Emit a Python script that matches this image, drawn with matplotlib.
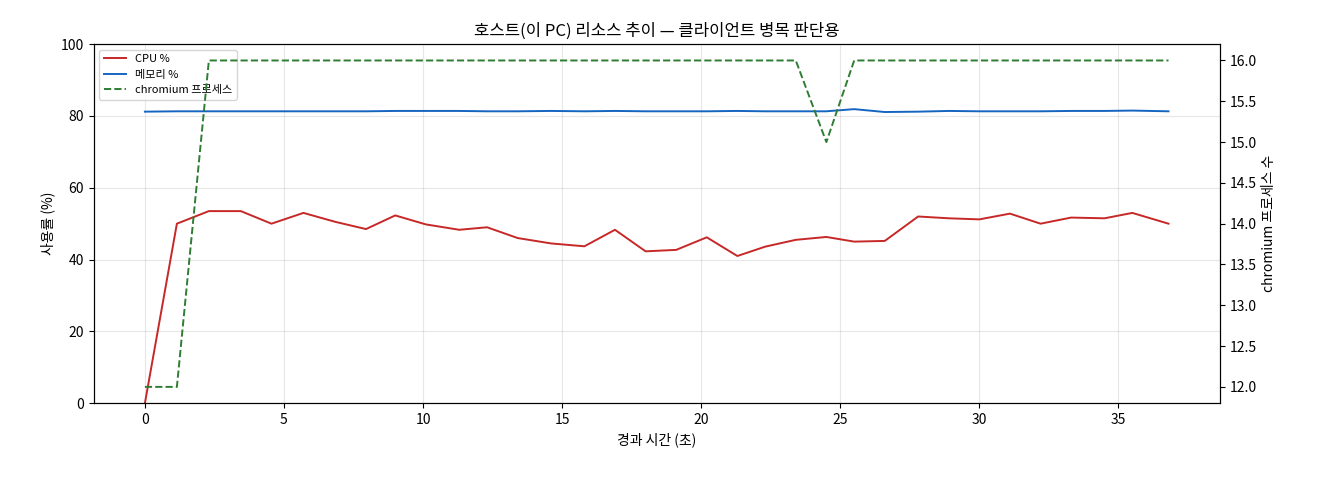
import matplotlib
matplotlib.use("Agg")
import matplotlib.pyplot as plt

plt.rcParams['font.family'] = ['Noto Sans CJK KR', 'DejaVu Sans']

t = [0, 1.15, 2.3, 3.45, 4.55, 5.7, 6.85, 7.95, 9.0, 10.1, 11.3, 12.3, 13.4, 14.6, 15.8, 16.9,
     18.0, 19.1, 20.2, 21.3, 22.3, 23.4, 24.5, 25.5, 26.6, 27.8, 28.9, 30.0, 31.1, 32.2, 33.3,
     34.5, 35.5, 36.8]
cpu = [0, 50, 53.5, 53.5, 50, 53, 50.5, 48.5, 52.3, 49.8, 48.3, 49, 46, 44.5, 43.7, 48.3,
       42.3, 42.7, 46.2, 41, 43.6, 45.5, 46.3, 45, 45.2, 52, 51.5, 51.2, 52.8, 50, 51.7,
       51.5, 53, 50]
mem = [81.2, 81.3, 81.3, 81.3, 81.3, 81.3, 81.3, 81.3, 81.4, 81.4, 81.4, 81.3, 81.3, 81.4, 81.3, 81.4,
       81.3, 81.3, 81.3, 81.4, 81.3, 81.3, 81.3, 81.9, 81.1, 81.2, 81.4, 81.3, 81.3, 81.3, 81.4,
       81.4, 81.5, 81.3]
proc = [12, 12, 16, 16, 16, 16, 16, 16, 16, 16, 16, 16, 16, 16, 16, 16,
        16, 16, 16, 16, 16, 16, 15, 16, 16, 16, 16, 16, 16, 16, 16,
        16, 16, 16]

fig, ax = plt.subplots(figsize=(13.2, 4.8), dpi=100)
fig.subplots_adjust(left=0.071, right=0.924, top=0.908, bottom=0.16)
l1, = ax.plot(t, cpu, color='#c62828', lw=1.4, label='CPU %')
l2, = ax.plot(t, mem, color='#1565c0', lw=1.4, label='메모리 %')
ax.set_ylim(0, 100)
ax.set_ylabel('사용률 (%)')
ax.set_xlabel('경과 시간 (초)')
ax.grid(True, alpha=0.3)
ax.set_title('호스트(이 PC) 리소스 추이 — 클라이언트 병목 판단용')
ax2 = ax.twinx()
l3, = ax2.plot(t, proc, color='#2e7d32', lw=1.4, ls='--', label='chromium 프로세스')
ax2.set_ylim(11.8, 16.2)
ax2.set_ylabel('chromium 프로세스 수')
ax.legend(handles=[l1, l2, l3], loc='upper left', fontsize=8)
fig.savefig('out.png')
